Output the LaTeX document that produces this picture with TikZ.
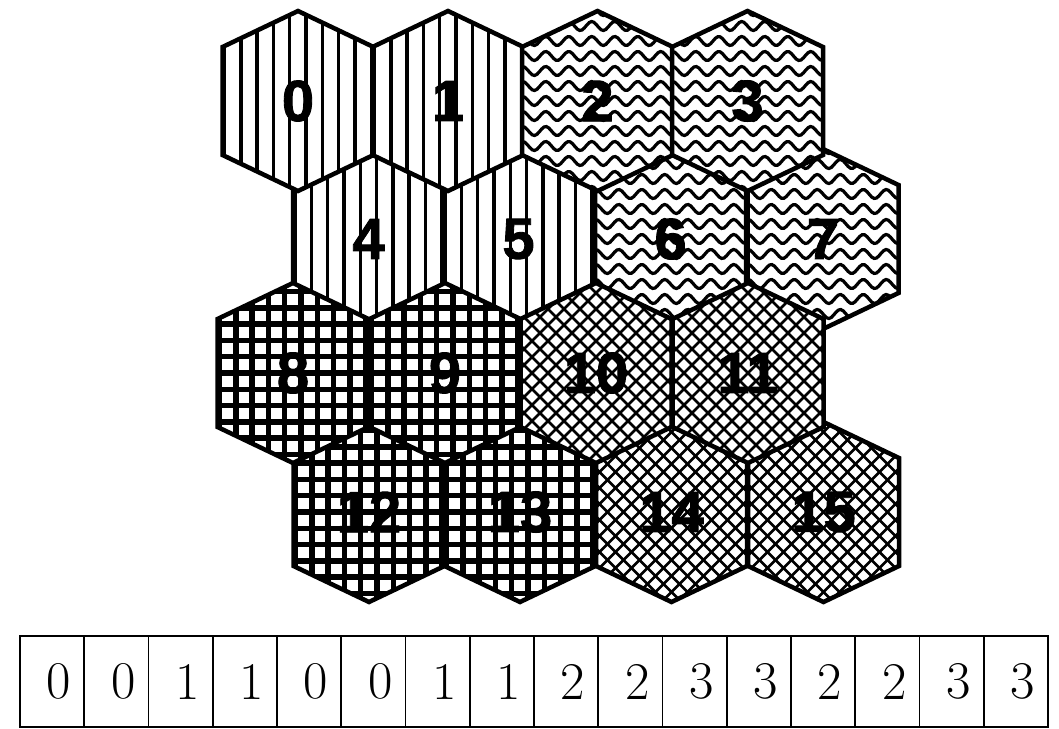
\documentclass[tikz,border=0pt]{standalone}
\usepackage{fontspec}
\setsansfont{Liberation Sans}
\newfontfamily\hexlabfont{Liberation Sans}[BoldFeatures={FakeBold=1.5}]
\tikzset{
  hexline/.style={line width=4.5pt, line join=miter, black},
  vline/.style={line width=3.4pt, black},
  wline/.style={line width=3.2pt, black},
  gline/.style={line width=5.5pt, black},
  cline/.style={line width=2.6pt, black},
  lab/.style={font=\hexlabfont\bfseries\fontsize{58}{60}\selectfont, inner sep=0pt, text=black},
  cell/.style={draw, line width=1.6pt, minimum width=64.25pt, minimum height=91pt, inner sep=0pt,
               font=\fontsize{53}{60}\selectfont, anchor=center},
}
\newcommand\hexpath[2]{(#1,#2-90) -- (#1+75.5,#2-54) -- (#1+75.5,#2+54) -- (#1,#2+90) -- (#1-75.5,#2+54) -- (#1-75.5,#2-54) -- cycle}
\newcommand\patvert[2]{\foreach \k in {-5,...,5} {\draw[vline] ({#1+(\k)*16.3+8},{#2-100}) -- ({#1+(\k)*16.3+8},{#2+100});}}
\newcommand\patwave[2]{\foreach \k in {-7,...,7} {\draw[wline] plot[domain=-82:82, samples=70, smooth] ({#1+\x},{#2+(\k)*15+4.5*sin(\x*15.65)});}}
\newcommand\patgrid[2]{\foreach \k in {-6,...,6} {\draw[gline] ({#1+(\k)*16.3+8},{#2-100}) -- ({#1+(\k)*16.3+8},{#2+100}); \draw[gline] ({#1-82},{#2+(\k)*16.3}) -- ({#1+82},{#2+(\k)*16.3});}}
\newcommand\patcross[2]{\foreach \k in {-12,...,12} {\draw[cline] ({#1+(\k)*16-100},{#2-100}) -- ({#1+(\k)*16+100},{#2+100}); \draw[cline] ({#1+(\k)*16+100},{#2-100}) -- ({#1+(\k)*16-100},{#2+100});}}
\newcommand\hexcell[4]{%
  \begin{scope}
    \clip \hexpath{#1}{#2};
    \fill[white] ({#1-80},{#2-95}) rectangle ({#1+80},{#2+95});
    \csname pat#3\endcsname{#1}{#2}
  \end{scope}
  \draw[hexline] \hexpath{#1}{#2};
  \node[lab] (h#4) at (#1,#2) {#4};
}
\begin{document}
\begin{tikzpicture}[x=1pt, y=-1pt]
  \useasboundingbox[fill=white] (0,0) rectangle (1059,728);
  % row 1
  \hexcell{368.5}{239}{vert}{4}
  \hexcell{518.5}{239}{vert}{5}
  \hexcell{670.5}{239}{wave}{6}
  \hexcell{823}{239}{wave}{7}
  % row 3
  \hexcell{369}{512}{grid}{12}
  \hexcell{520}{512}{grid}{13}
  \hexcell{671.5}{512}{cross}{14}
  \hexcell{823.5}{512}{cross}{15}
  % row 0
  \hexcell{298}{101}{vert}{0}
  \hexcell{448}{101}{vert}{1}
  \hexcell{597.5}{101}{wave}{2}
  \hexcell{747.5}{101}{wave}{3}
  % row 2
  \hexcell{293}{373}{grid}{8}
  \hexcell{445}{373}{grid}{9}
  \hexcell{596}{373}{cross}{10}
  \hexcell{748}{373}{cross}{11}
  % bottom array
  \foreach \i/\v in {0/0,1/0,2/1,3/1,4/0,5/0,6/1,7/1,8/2,9/2,10/3,11/3,12/2,13/2,14/3,15/3} {
    \node[cell] (c\i) at ({20+64.25*\i+32.125},681.5) {\hspace*{14pt}\v};
  }
\end{tikzpicture}
\end{document}
